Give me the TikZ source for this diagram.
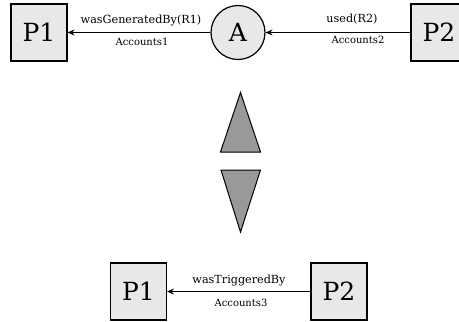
\documentclass[tikz,border=0pt]{standalone}
\usepackage{fontspec}
\setmainfont{DejaVu Serif}
\usetikzlibrary{arrows.meta}
\definecolor{boxfill}{HTML}{E8E8E8}
\definecolor{trifill}{HTML}{999999}
\begin{document}
\begin{tikzpicture}[x=1pt,y=-1pt,
  proc/.style={draw,line width=1.2pt,fill=boxfill,minimum width=56pt,minimum height=57pt,inner sep=0pt,font=\fontsize{25}{28}\selectfont},
  art/.style={draw,line width=1.2pt,fill=boxfill,circle,minimum size=54pt,inner sep=0pt,font=\fontsize{25}{28}\selectfont},
  edge/.style={-{Stealth[length=7pt,width=6pt,inset=2.5pt]},line width=0.8pt},
  lab/.style={font=\fontsize{11.2}{13}\selectfont,inner sep=0pt},
  acc/.style={font=\fontsize{10}{12}\selectfont,inner sep=0pt},
  tri/.style={draw,line width=1pt,fill=trifill}]
\useasboundingbox (0,0) rectangle (459,322);
\node[proc] (p1) at (39,32.5) {P1};
\node[art] (a) at (238,32.5) {A};
\node[proc] (p2) at (439,32.5) {P2};
\draw[edge] (a) -- (p1);
\draw[edge] (p2) -- (a);
\node[lab] at (141,20) {wasGeneratedBy(R1)};
\node[acc] at (142,42) {Accounts1};
\node[lab] at (352,19) {used(R2)};
\node[acc] at (358,40) {Accounts2};
\draw[tri] (240.5,92.5) -- (260.5,152) -- (220.5,152) -- cycle;
\draw[tri] (221,170) -- (260.5,170) -- (240.5,232) -- cycle;
\node[proc] (q1) at (138.5,291.5) {P1};
\node[proc] (q2) at (339,291.5) {P2};
\draw[edge] (q2) -- (q1);
\node[lab] at (239,280) {wasTriggeredBy};
\node[acc] at (241,302.5) {Accounts3};
\end{tikzpicture}
\end{document}
